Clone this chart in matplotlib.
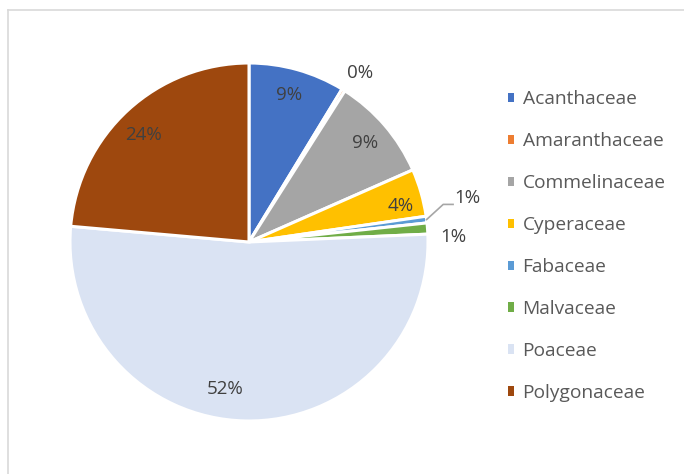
import numpy as np
import matplotlib
matplotlib.use('Agg')
import matplotlib.pyplot as plt
from matplotlib.patches import Patch
from matplotlib.lines import Line2D

# данные
families = ['Acanthaceae', 'Amaranthaceae', 'Commelinaceae', 'Cyperaceae',
            'Fabaceae', 'Malvaceae', 'Poaceae', 'Polygonaceae']
shares = [8.7, 0.3, 9.4, 4.3, 0.6, 1.0, 52.1, 23.6]
labels = ['9%', '0%', '9%', '4%', '1%', '1%', '52%', '24%']
colors = ['#4472C4', '#ED7D31', '#A5A5A5', '#FFC000',
          '#5B9BD5', '#70AD47', '#DAE3F3', '#9E480E']

# положение подписей: радиус и угол (по часовой от верха)
label_r = [0.85, 1.13, 0.85, 0.87, 1.245, 1.14, 0.83, 0.84]
label_a = [15.3, 33.4, 49.6, 76.5, 78.7, 88.6, 189.4, 315.5]

W, H = 684, 474
cx, cy, R = 249, 242, 179
fig = plt.figure(figsize=(W / 100, H / 100), dpi=100)
fig.patch.set_facecolor('white')

# рамка области диаграммы
fig.add_artist(Line2D([8 / W, 8 / W], [0, 1 - 10 / H], color='#D9D9D9', lw=1.2))
fig.add_artist(Line2D([8 / W, 1], [1 - 10 / H, 1 - 10 / H], color='#D9D9D9', lw=1.2))

ax = fig.add_axes([(cx - R) / W, (H - cy - R) / H, 2 * R / W, 2 * R / H])
wedges, _ = ax.pie(shares, colors=colors, startangle=90, counterclock=False,
                   radius=1, wedgeprops=dict(edgecolor='white', linewidth=2.2))
ax.set_xlim(-1, 1)
ax.set_ylim(-1, 1)
ax.set_aspect('equal')
ax.axis('off')

for lab, r, a in zip(labels, label_r, label_a):
    t = np.deg2rad(a)
    ax.text(r * np.sin(t), r * np.cos(t), lab, ha='center', va='center',
            fontsize=13.5, color='#404040', family='Open Sans')

# выносная линия для Fabaceae
mid = sum(shares[:4]) + shares[4] / 2
t = np.deg2rad(mid * 3.6)
p0 = (1.0 * np.sin(t), 1.0 * np.cos(t))
ax.plot([p0[0], 1.085, 1.14], [p0[1], 0.21, 0.21], color='#A6A6A6', lw=1.2,
        clip_on=False)

handles = [Patch(facecolor=c, edgecolor='none') for c in colors]
fig.legend(handles, families, loc='center left', bbox_to_anchor=(498 / W, 1 - 246 / H),
           frameon=False, labelspacing=1.25, handlelength=0.36, borderpad=0,
           handleheight=0.36, handletextpad=0.42, labelcolor='#595959',
           prop=dict(family='Open Sans', size=13.8))

fig.savefig('out.png', dpi=100, facecolor='white')
